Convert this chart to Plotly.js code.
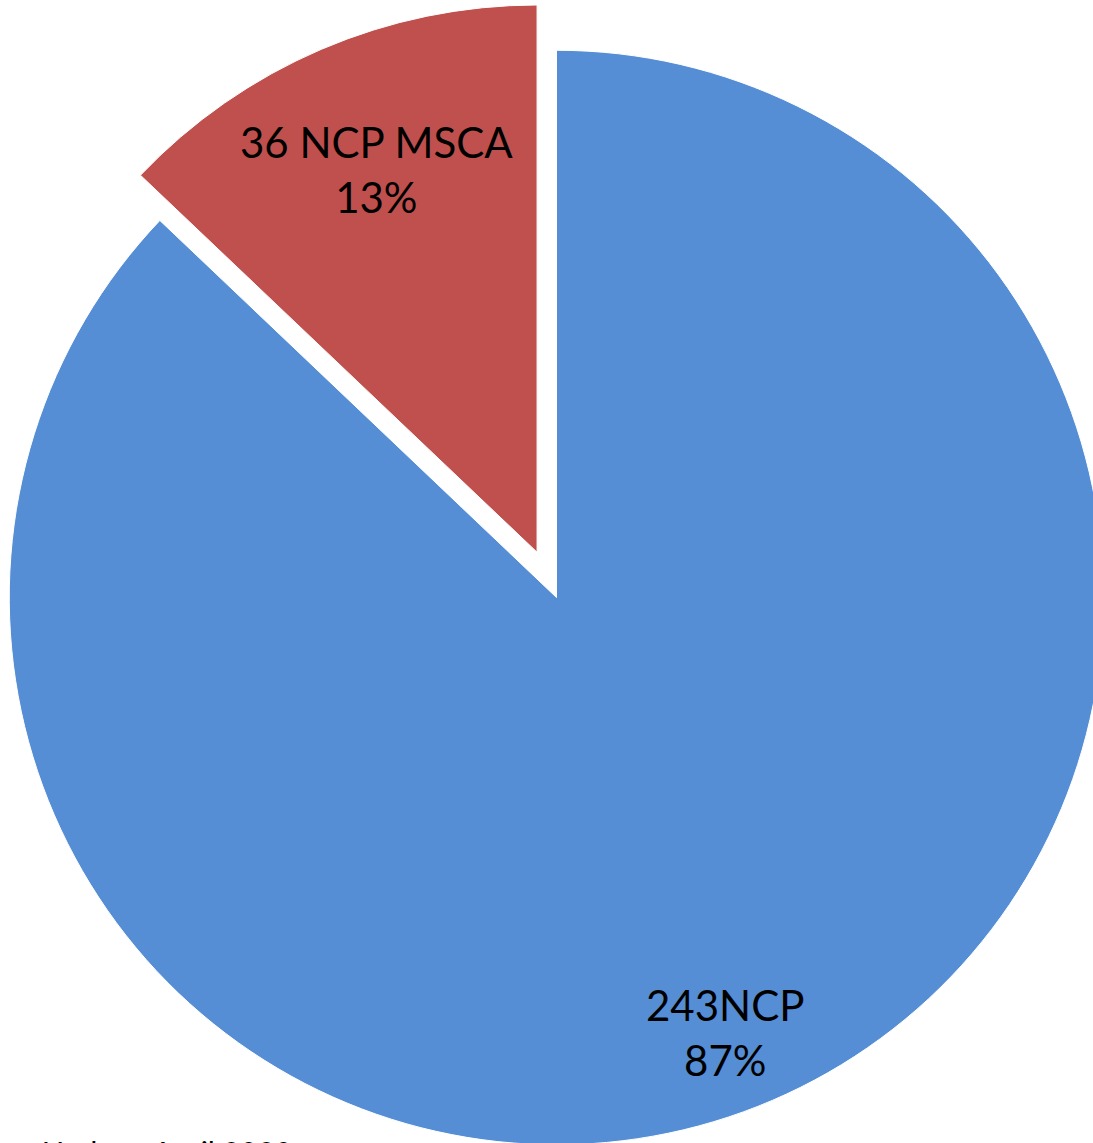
<!DOCTYPE html>
<html>
<head>
<meta charset="utf-8">
<script src="https://cdn.plot.ly/plotly-3.0.1.min.js"></script>
<style>
  html, body { margin: 0; padding: 0; overflow: hidden; background: #fff; }
  /* pie is bigger than the window, like the original crop */
  #chart { position: absolute; left: -40px; top: 1px; width: 1193px; height: 1193px; }
</style>
</head>
<body>
<div id="chart"></div>
<script>
// NCP counts
const labels = ['NCP', 'NCP MSCA'];
const values = [243, 36];
const labelSep = ['', ' '];
const sliceColors = ['#558ED5', '#C0504D'];
const pulls = [0, 0.09];
const footNote = 'Update: April 2020';

const total = values.reduce((a, b) => a + b, 0);

const pieData = {
    type: 'pie',
    labels: labels,
    values: values,
    sort: false,
    direction: 'clockwise',
    rotation: 0,
    pull: pulls,
    textinfo: 'none',
    hoverinfo: 'label+value+percent',
    marker: {
        colors: sliceColors,
        line: { color: '#fff', width: 1 }
    },
    showlegend: false
};

// label positions (paper coords), Excel-style placement
const labelPos = [[0.641, 0.135], [0.349, 0.859]];

const annotations = values.map((v, i) => ({
    xref: 'paper', yref: 'paper',
    x: labelPos[i][0], y: labelPos[i][1],
    xanchor: 'center', yanchor: 'middle',
    text: v + labelSep[i] + labels[i] + '<br>' + Math.round(v / total * 100) + '%',
    showarrow: false,
    font: { size: 42, color: '#000' }
}));

annotations.push({
    xref: 'paper', yref: 'paper',
    x: 0.067, y: 0.052,
    xanchor: 'left', yanchor: 'top',
    text: footNote,
    showarrow: false,
    font: { size: 30, color: '#000' }
});

const layout = {
    width: 1193,
    height: 1193,
    margin: { t: 0, r: 0, l: 0, b: 0 },
    paper_bgcolor: '#fff',
    font: { family: 'Lato, "Liberation Sans", sans-serif', color: '#000' },
    annotations: annotations
};

Plotly.newPlot('chart', [pieData], layout, { displayModeBar: false, staticPlot: true });
</script>
</body>
</html>
